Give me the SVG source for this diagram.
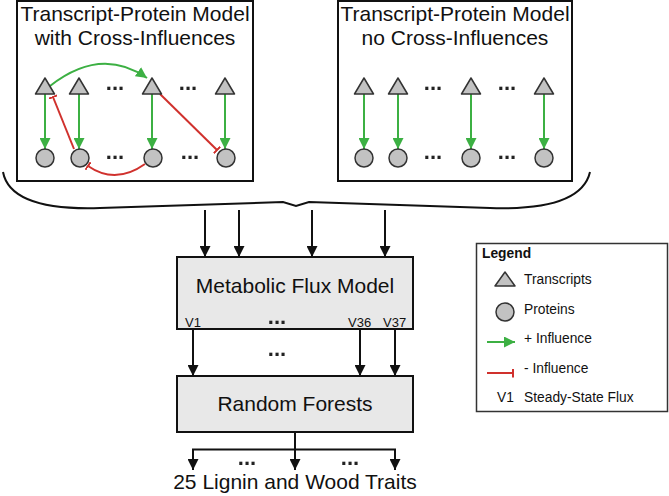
<svg xmlns="http://www.w3.org/2000/svg" width="669" height="496" viewBox="0 0 669 496">
<defs>
<style>
text{font-family:"Liberation Sans",Arial,sans-serif;fill:#111}
.title{font-size:21px;text-anchor:middle}
.big{font-size:21px;text-anchor:middle}
.dots{font-size:22px;font-weight:bold;text-anchor:middle;fill:#222;filter:url(#gray)}
.small{font-size:13px}
.leg{font-size:13.8px}
.panel{fill:#fff;stroke:#111;stroke-width:2}
.box{fill:#e8e8e8;stroke:#111;stroke-width:2}
.tri{fill:#c2c2c2;stroke:#333;stroke-width:1.5;stroke-linejoin:round}
.circ{fill:#c2c2c2;stroke:#333;stroke-width:1.5}
.pos{fill:none;stroke:#3cb043;stroke-width:2;marker-end:url(#ga)}
.neg{fill:none;stroke:#d0312d;stroke-width:2;marker-end:url(#rt)}
.blk{fill:none;stroke:#111;stroke-width:2;marker-end:url(#ba)}
.plain{fill:none;stroke:#111;stroke-width:2}
</style>
<filter id="gray" x="-20%" y="-50%" width="140%" height="200%"><feOffset dx="0" dy="0"/></filter>
<marker id="ga" viewBox="0 0 10 10" refX="10" refY="5" markerWidth="11" markerHeight="11" markerUnits="userSpaceOnUse" orient="auto"><path d="M0,0 L10,5 L0,10 z" fill="#3cb043"/></marker>
<marker id="ba" viewBox="0 0 10 10" refX="10" refY="5" markerWidth="11" markerHeight="11" markerUnits="userSpaceOnUse" orient="auto"><path d="M0,0 L10,5 L0,10 z" fill="#111"/></marker>
<marker id="rt" viewBox="0 0 2 9" refX="1" refY="4.5" markerWidth="2" markerHeight="9" markerUnits="userSpaceOnUse" orient="auto"><rect x="0" y="0" width="2" height="9" fill="#d0312d"/></marker>
</defs>
<rect width="669" height="496" fill="#fff"/>

<g id="panel-left">
<rect class="panel" x="17" y="1" width="236" height="180"/>
<text class="title" x="135" y="21">Transcript-Protein Model</text>
<text class="title" x="135" y="45">with Cross-Influences</text>
<text class="dots" x="115" y="90">...</text>
<text class="dots" x="188" y="90">...</text>
<text class="dots" x="115" y="159">...</text>
<text class="dots" x="190" y="159">...</text>
</g>
<g id="panel-right">
<rect class="panel" x="338" y="1" width="234" height="180"/>
<text class="title" x="455" y="21">Transcript-Protein Model</text>
<text class="title" x="455" y="45">no Cross-Influences</text>
<text class="dots" x="433" y="90">...</text>
<text class="dots" x="507" y="90">...</text>
<text class="dots" x="433" y="159">...</text>
<text class="dots" x="507" y="159">...</text>
</g>

<g id="connectors">
<line class="pos" x1="45" y1="94" x2="45" y2="149"/>
<line class="pos" x1="79" y1="94" x2="79" y2="149"/>
<line class="pos" x1="152" y1="94" x2="152" y2="149"/>
<line class="pos" x1="225" y1="94" x2="225" y2="149"/>
<path class="pos" d="M50,86 Q101,46 147,78"/>
<line class="neg" x1="74" y1="149" x2="53" y2="97"/>
<line class="neg" x1="160" y1="94" x2="217" y2="150"/>
<path class="neg" d="M145,164 Q115.5,185 88,166"/>
<line class="pos" x1="364" y1="94" x2="364" y2="149"/>
<line class="pos" x1="398" y1="94" x2="398" y2="149"/>
<line class="pos" x1="471" y1="94" x2="471" y2="149"/>
<line class="pos" x1="544" y1="94" x2="544" y2="149"/>
<path class="plain" d="M3,172 C8,198 40,210 100,208 C200,205 270,203 283,202 L296,206 L309,202 C322,203 390,205 490,208 C550,210 584,198 590,172"/>
<line class="blk" x1="205" y1="210" x2="205" y2="257"/>
<line class="blk" x1="239" y1="210" x2="239" y2="257"/>
<line class="blk" x1="312" y1="210" x2="312" y2="257"/>
<line class="blk" x1="385" y1="210" x2="385" y2="257"/>
<line class="blk" x1="193" y1="330" x2="193" y2="376"/>
<line class="blk" x1="360" y1="330" x2="360" y2="376"/>
<line class="blk" x1="395" y1="330" x2="395" y2="376"/>
<polyline class="plain" points="295,432 295,449.5"/>
<line class="plain" x1="192" y1="449.5" x2="396" y2="449.5"/>
<line class="blk" x1="193" y1="449.5" x2="193" y2="470"/>
<line class="blk" x1="295" y1="449.5" x2="295" y2="470"/>
<line class="blk" x1="395" y1="449.5" x2="395" y2="470"/>
<text class="dots" x="277" y="356">...</text>
<text class="dots" x="247" y="465">...</text>
<text class="dots" x="350" y="465">...</text>
</g>

<g id="t1"><polygon class="tri" points="45,78 35.5,94 54.5,94"/></g>
<g id="t2"><polygon class="tri" points="79,78 69.5,94 88.5,94"/></g>
<g id="t3"><polygon class="tri" points="152,78 142.5,94 161.5,94"/></g>
<g id="t4"><polygon class="tri" points="225,78 215.5,94 234.5,94"/></g>
<g id="p1"><circle class="circ" cx="45" cy="158" r="9"/></g>
<g id="p2"><circle class="circ" cx="80" cy="158" r="9"/></g>
<g id="p3"><circle class="circ" cx="153" cy="158" r="9"/></g>
<g id="p4"><circle class="circ" cx="226" cy="158" r="9"/></g>
<g id="rt1"><polygon class="tri" points="364,78 354.5,94 373.5,94"/></g>
<g id="rt2"><polygon class="tri" points="398,78 388.5,94 407.5,94"/></g>
<g id="rt3"><polygon class="tri" points="471,78 461.5,94 480.5,94"/></g>
<g id="rt4"><polygon class="tri" points="544,78 534.5,94 553.5,94"/></g>
<g id="rp1"><circle class="circ" cx="364" cy="158" r="9"/></g>
<g id="rp2"><circle class="circ" cx="398" cy="158" r="9"/></g>
<g id="rp3"><circle class="circ" cx="471" cy="158" r="9"/></g>
<g id="rp4"><circle class="circ" cx="544" cy="158" r="9"/></g>

<g id="mfm">
<rect class="box" x="177" y="257" width="236" height="72"/>
<text class="big" x="295" y="293">Metabolic Flux Model</text>
<text class="small" x="185" y="327">V1</text>
<text class="dots" x="277" y="324">...</text>
<text class="small" x="348" y="327">V36</text>
<text class="small" x="383" y="327">V37</text>
</g>

<g id="rf">
<rect class="box" x="177" y="376" width="236" height="56"/>
<text class="big" x="295" y="411">Random Forests</text>
</g>

<g id="traits">
<text class="big" x="295" y="489">25 Lignin and Wood Traits</text>
</g>

<g id="legend">
<rect x="476.5" y="243.5" width="191" height="168" fill="#fff" stroke="#333" stroke-width="1.5"/>
<text class="leg" x="482" y="258" font-weight="bold">Legend</text>
<polygon class="tri" points="505,272 495,286 515,286"/>
<text class="leg" x="524" y="284">Transcripts</text>
<circle class="circ" cx="505" cy="312" r="9"/>
<text class="leg" x="524" y="314">Proteins</text>
<line class="pos" x1="487" y1="342" x2="515" y2="342"/>
<text class="leg" x="524" y="343">+ Influence</text>
<line class="neg" x1="487" y1="373" x2="513" y2="373"/>
<text class="leg" x="524" y="373">- Influence</text>
<text class="leg" x="497" y="402">V1</text>
<text class="leg" x="524" y="402">Steady-State Flux</text>
</g>
</svg>
